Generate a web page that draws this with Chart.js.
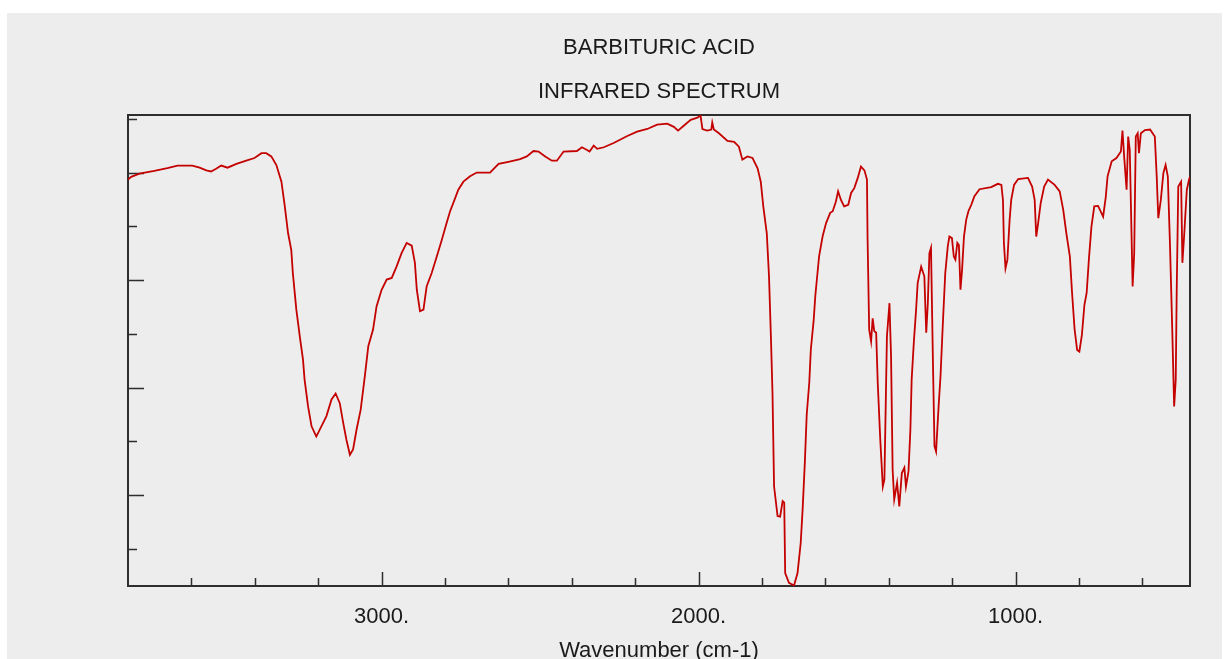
<!DOCTYPE html>
<html>
<head>
<meta charset="utf-8">
<script src="https://cdn.jsdelivr.net/npm/chart.js@4.4.0/dist/chart.umd.min.js"></script>
<style>
html,body{margin:0;padding:0;background:#ffffff;}
#wrap{position:absolute;left:0;top:0;width:1227px;height:659px;}
</style>
</head>
<body>
<div id="wrap"><canvas id="c" width="1227" height="659"></canvas></div>
<script>
const titleLines = ['BARBITURIC ACID', 'INFRARED SPECTRUM'];
const xAxisTitle = 'Wavenumber (cm-1)';

const wavenumbers = [
3800,3790,3764,3717,3676,3644,3597,3574,3553,3538,3522,3506,3486,3458,3427,3401,3379,3364,3348,3332,
3316,3306,3295,3285,3280,3269,3258,3248,3243,3232,3221,3206,3190,3174,3158,3145,3132,3121,3111,3100,
3090,3079,3066,3053,3042,3027,3016,3000,2984,2968,2953,2937,2921,2905,2895,2889,2879,2868,2858,2842,
2826,2810,2795,2784,2774,2758,2742,2721,2700,2658,2631,2600,2563,2542,2521,2505,2484,2463,2447,2426,
2384,2368,2352,2344,2331,2320,2299,2268,2225,2194,2162,2131,2099,2078,2065,2047,2025,2004,1994,1988,
1973,1960,1957,1952,1936,1909,1888,1873,1862,1846,1830,1814,1804,1796,1785,1778,1772,1767,1762,1751,
1743,1735,1730,1727,1715,1699,1688,1678,1672,1665,1659,1651,1646,1637,1632,1627,1620,1609,1598,1585,
1577,1567,1560,1551,1541,1528,1519,1509,1498,1488,1477,1469,1467,1462,1456,1451,1446,1440,1435,1427,
1419,1414,1411,1406,1398,1393,1388,1383,1374,1367,1359,1351,1346,1338,1332,1328,1321,1314,1309,1298,
1288,1282,1277,1272,1267,1261,1256,1251,1243,1237,1230,1222,1214,1209,1201,1195,1190,1184,1179,1174,
1169,1163,1156,1149,1140,1130,1114,1077,1056,1045,1040,1037,1032,1026,1019,1014,1005,992,961,948,
940,935,929,921,910,898,877,861,850,840,829,822,814,806,799,791,783,776,769,761,
752,740,724,716,710,697,682,668,663,657,650,645,640,631,626,621,615,611,605,592,
576,561,555,550,542,534,527,520,513,506,500,495,492,487,478,474,468,460,453,450
];
const transmittance = [
78.7,79.2,79.8,80.3,80.8,81.3,81.3,80.9,80.4,80.2,80.7,81.3,80.9,81.6,82.2,82.7,83.6,83.6,83.0,81.4,
78.3,74.0,68.7,65.6,61.3,54.5,49.5,45.2,41.5,36.5,32.8,30.9,32.8,34.7,37.8,38.9,37.1,33.4,30.3,27.5,
28.5,32.2,35.9,42.1,47.7,50.8,55.1,58.2,60.1,60.4,62.5,65.0,66.9,66.4,63.2,58.2,54.2,54.5,58.8,61.3,
64.4,67.5,70.6,72.8,74.3,76.8,78.3,79.3,80.0,80.0,81.6,82.0,82.5,83.0,84.0,83.9,83.0,82.2,82.2,83.9,
84.0,84.7,84.2,83.9,85.0,84.4,84.7,85.5,86.8,87.6,88.1,88.9,89.1,88.5,87.8,88.7,89.8,90.2,90.6,88.1,
87.8,88.0,89.3,88.0,87.3,85.9,85.7,84.8,82.4,83.0,82.7,80.8,78.3,73.7,68.7,60.7,49.5,39.0,21.6,16.1,
16.0,18.9,18.6,5.5,3.7,3.2,5.5,11.1,17.3,26.0,35.0,40.9,47.1,52.6,57.0,60.1,64.4,68.1,70.6,72.5,
72.8,74.6,76.5,74.9,73.7,74.0,76.2,77.1,79.0,81.1,80.4,78.7,67.5,50.8,48.6,52.9,50.5,50.2,40.9,30.3,
21.6,22.9,32.8,49.5,55.7,45.8,24.7,19.2,22.3,17.9,24.1,25.1,21.6,24.4,32.2,41.5,48.6,54.5,59.5,62.5,
60.7,50.2,55.7,65.0,66.0,45.2,29.1,28.1,36.5,42.1,51.4,61.3,66.3,68.1,67.8,64.4,63.8,66.9,66.5,58.2,
61.9,68.1,71.2,72.8,74.0,75.6,76.9,77.3,77.9,77.7,74.9,66.9,62.2,63.8,71.2,74.9,77.7,78.8,79.0,77.4,
74.9,68.1,70.6,74.3,77.4,78.7,77.7,76.5,73.1,68.7,64.4,57.6,50.8,47.0,46.7,49.8,55.4,57.6,63.8,69.9,
73.7,73.8,71.8,75.3,79.3,82.1,82.7,83.9,87.8,82.4,76.8,86.7,84.2,58.8,65.0,86.7,87.3,83.6,87.3,87.9,
88.0,86.7,79.3,71.5,74.9,79.9,81.4,79.3,66.3,50.8,36.5,41.5,57.6,77.4,78.3,63.2,68.7,76.8,78.7,79.2
];

const xTickValues = [3600,3400,3200,3000,2800,2600,2400,2200,2000,1800,1600,1400,1200,1000,800,600];
const xMajorTicks = [3000,2000,1000];
const yTickValues = [10,20,30,40,50,60,70,80,90];
const yMajorTicks = [20,40,60,80];
const xRange = [450, 3800];
const yRange = [3.1, 90.7];

const FONT = '"Liberation Sans", Arial, "DejaVu Sans", sans-serif';
const TEXT_COLOR = '#1a1a1a';
const AXIS_COLOR = '#2e2e2e';
const LINE_COLOR = '#c40000';

const points = wavenumbers.map((w, i) => ({x: w, y: transmittance[i]}));

const decor = {
  id: 'decor',
  beforeDraw(chart) {
    const ctx = chart.ctx;
    ctx.save();
    ctx.fillStyle = '#ffffff';
    ctx.fillRect(0, 0, chart.width, chart.height);
    ctx.fillStyle = '#ededed';
    ctx.fillRect(7, 13, 1215, chart.height - 13);
    ctx.restore();
  },
  beforeDatasetsDraw(chart) {
    const {ctx, chartArea: a, scales: {x, y}} = chart;
    ctx.save();
    ctx.strokeStyle = AXIS_COLOR;
    ctx.lineWidth = 1.5;
    ctx.beginPath();
    yTickValues.forEach(v => {
      const py = Math.round(y.getPixelForValue(v)) + 0.5;
      const len = yMajorTicks.includes(v) ? 16 : 9;
      ctx.moveTo(a.left, py);
      ctx.lineTo(a.left + len, py);
    });
    xTickValues.forEach(v => {
      const px = Math.round(x.getPixelForValue(v)) + 0.5;
      const len = xMajorTicks.includes(v) ? 14 : 8;
      ctx.moveTo(px, a.bottom);
      ctx.lineTo(px, a.bottom - len);
    });
    ctx.stroke();
    ctx.lineWidth = 2;
    ctx.strokeRect(a.left, a.top, a.right - a.left, a.bottom - a.top);
    ctx.restore();
  }
};

new Chart(document.getElementById('c'), {
  type: 'line',
  data: {
    datasets: [{
      data: points,
      borderColor: LINE_COLOR,
      borderWidth: 1.8,
      pointRadius: 0,
      tension: 0,
      fill: false
    }]
  },
  options: {
    responsive: false,
    animation: false,
    devicePixelRatio: 1,
    layout: {padding: {left: 128, right: 37, top: 0, bottom: 0}},
    plugins: {
      legend: {display: false},
      tooltip: {enabled: false},
      title: {
        display: true,
        fullSize: false,
        text: titleLines,
        color: TEXT_COLOR,
        font: {family: FONT, size: 22, weight: 'normal', lineHeight: 2},
        padding: {top: 26, bottom: 1}
      }
    },
    scales: {
      x: {
        type: 'linear',
        reverse: true,
        min: xRange[0],
        max: xRange[1],
        afterBuildTicks: (scale) => { scale.ticks = xTickValues.map(v => ({value: v})); },
        afterFit: (scale) => { scale.height = 73; },
        grid: {display: false, drawTicks: false},
        border: {display: false},
        ticks: {
          autoSkip: false,
          maxRotation: 0,
          padding: 18,
          color: TEXT_COLOR,
          font: {family: FONT, size: 22},
          callback: (v) => xMajorTicks.includes(v) ? v + '.' : ''
        },
        title: {
          display: true,
          text: xAxisTitle,
          color: TEXT_COLOR,
          font: {family: FONT, size: 22, lineHeight: 1},
          padding: {top: 0, bottom: -3}
        }
      },
      y: {
        type: 'linear',
        display: false,
        min: yRange[0],
        max: yRange[1]
      }
    }
  },
  plugins: [decor]
});
</script>
</body>
</html>
